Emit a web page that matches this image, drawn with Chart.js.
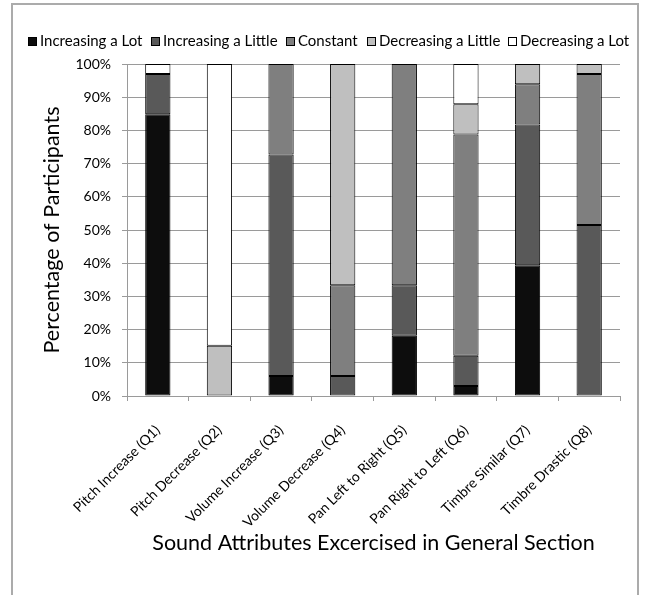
<!DOCTYPE html>
<html>
<head>
<meta charset="utf-8">
<script src="https://cdn.jsdelivr.net/npm/chart.js@4/dist/chart.umd.min.js"></script>
<style>
  html, body { margin: 0; padding: 0; background: #ffffff; }
  #wrap { position: relative; width: 646px; height: 595px; }
  #frame { position: absolute; left: 11px; top: 3px; width: 628px; height: 620px;
           border: 2px solid #ababab; box-sizing: border-box; pointer-events: none; }
  canvas { position: absolute; left: 0; top: 0; }
</style>
</head>
<body>
<div id="wrap">
  <canvas id="chart" width="646" height="595"></canvas>
  <div id="frame"></div>
</div>
<script>
// Questions from the general section of the survey
const categories = [
  'Pitch Increase (Q1)', 'Pitch Decrease (Q2)', 'Volume Increase (Q3)', 'Volume Decrease (Q4)',
  'Pan Left to Right (Q5)', 'Pan Right to Left (Q6)', 'Timbre Similar (Q7)', 'Timbre Drastic (Q8)'
];

// Share of participants (%) giving each answer, per question
const increasingALot    = [84.85,  0.00,  6.06,  0.00, 18.18,  3.03, 39.39,  0.00];
const increasingALittle = [12.12,  0.00, 66.67,  6.06, 15.15,  9.09, 42.42, 51.52];
const constant          = [ 0.00,  0.00, 27.27, 27.27, 66.67, 66.67, 12.12, 45.45];
const decreasingALittle = [ 0.00, 15.15,  0.00, 66.67,  0.00,  9.09,  6.06,  3.03];
const decreasingALot    = [ 3.03, 84.85,  0.00,  0.00,  0.00, 12.12,  0.00,  0.00];

const seriesNames = ['Increasing a Lot', 'Increasing a Little', 'Constant', 'Decreasing a Little', 'Decreasing a Lot'];
const seriesValues = [increasingALot, increasingALittle, constant, decreasingALittle, decreasingALot];
const seriesColors = ['#0d0d0d', '#595959', '#7f7f7f', '#bfbfbf', '#ffffff'];

const percentTicks = [0, 10, 20, 30, 40, 50, 60, 70, 80, 90, 100];

const FONT = 'Lato, "Open Sans", sans-serif';
const GRID = '#9a9a9a';

// Plot box geometry
const PLOT_LEFT = 127, PLOT_BOTTOM = 396;
const PAD = { left: 20, right: 26, top: 64, bottom: 35 };

// Single-row legend: small outlined swatch, tight gap, centred above the plot
const LEGEND = { centerX: 329, centerY: 41, box: 9, gap: 3, spacing: 8.5, fontSize: 15 };

const swatchLegend = {
  id: 'swatchLegend',
  afterDraw(chart) {
    const ctx = chart.ctx;
    const sets = chart.data.datasets;
    ctx.save();
    ctx.font = LEGEND.fontSize + 'px ' + FONT;
    ctx.textBaseline = 'middle';
    ctx.textAlign = 'left';
    const widths = sets.map(ds => LEGEND.box + LEGEND.gap + ctx.measureText(ds.label).width);
    const total = widths.reduce((a, b) => a + b, 0) + LEGEND.spacing * (sets.length - 1);
    let x = LEGEND.centerX - total / 2;
    sets.forEach((ds, i) => {
      const left = Math.round(x);
      const top = Math.round(LEGEND.centerY - LEGEND.box / 2);
      ctx.fillStyle = ds.backgroundColor;
      ctx.fillRect(left, top, LEGEND.box, LEGEND.box);
      ctx.strokeStyle = '#000000';
      ctx.lineWidth = 1;
      ctx.strokeRect(left + 0.5, top + 0.5, LEGEND.box - 1, LEGEND.box - 1);
      ctx.fillStyle = '#000000';
      ctx.fillText(ds.label, left + LEGEND.box + LEGEND.gap, LEGEND.centerY + 0.5);
      x += widths[i] + LEGEND.spacing;
    });
    ctx.restore();
  }
};

new Chart(document.getElementById('chart'), {
  type: 'bar',
  data: {
    labels: categories,
    datasets: seriesNames.map((name, i) => ({
      label: name,
      data: seriesValues[i],
      backgroundColor: seriesColors[i],
      borderColor: '#000000',
      borderWidth: 1,
      borderSkipped: false,
      categoryPercentage: 1,
      barPercentage: 0.41
    }))
  },
  options: {
    responsive: false,
    animation: false,
    devicePixelRatio: 1,
    layout: { padding: PAD },
    plugins: {
      tooltip: { enabled: false },
      legend: { display: false }
    },
    scales: {
      x: {
        stacked: true,
        afterFit(scale) { scale.height = 595 - PAD.bottom - PLOT_BOTTOM; },
        grid: { display: true, drawOnChartArea: false, drawTicks: true, tickLength: 5, offset: true, color: GRID },
        border: { display: true, color: GRID, width: 1 },
        ticks: {
          autoSkip: false, maxRotation: 45, minRotation: 45, padding: 21,
          color: '#000000', font: { family: FONT, size: 14 }
        },
        title: {
          display: true, text: 'Sound Attributes Excercised in General Section',
          color: '#000000', font: { family: FONT, size: 21.5 },
          padding: { top: 4, bottom: 4 }
        }
      },
      y: {
        stacked: true,
        min: 0, max: 100,
        afterFit(scale) { scale.width = PLOT_LEFT - PAD.left; },
        afterBuildTicks(scale) { scale.ticks = percentTicks.map(v => ({ value: v })); },
        grid: { color: GRID, tickLength: 5, drawTicks: true },
        border: { display: true, color: GRID, width: 1 },
        ticks: {
          padding: 11, color: '#000000', font: { family: FONT, size: 14 },
          callback: v => v + '%'
        },
        title: {
          display: true, text: 'Percentage of Participants',
          color: '#000000', font: { family: FONT, size: 21.5 },
          padding: { top: 19, bottom: 4 }
        }
      }
    }
  },
  plugins: [swatchLegend]
});
</script>
</body>
</html>
